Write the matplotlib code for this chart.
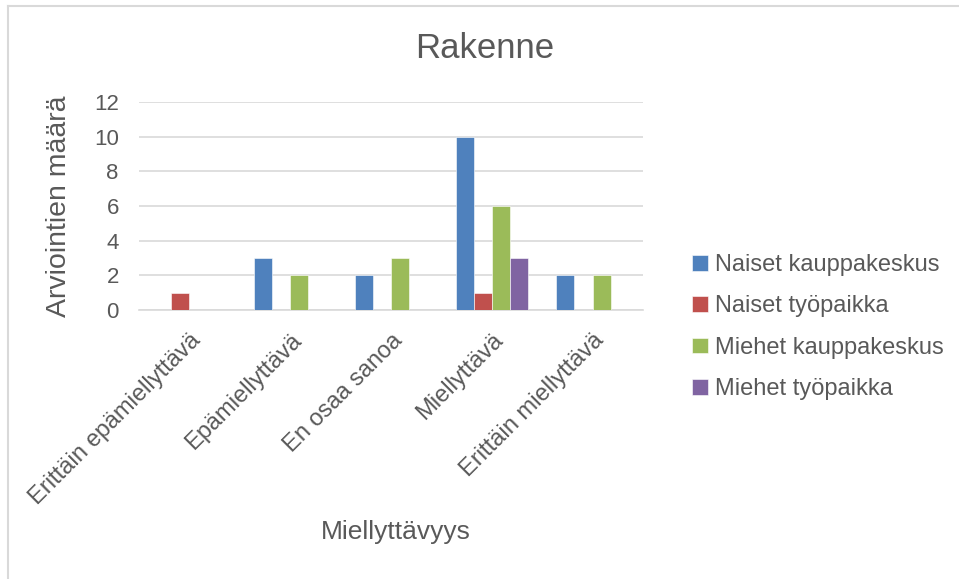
import numpy as np
import matplotlib
matplotlib.use('Agg')
import matplotlib.pyplot as plt
from matplotlib.lines import Line2D

plt.rcParams['font.family'] = ['Liberation Sans', 'DejaVu Sans']

categories = ['Erittäin epämiellyttävä', 'Epämiellyttävä', 'En osaa sanoa',
              'Miellyttävä', 'Erittäin miellyttävä']
series_names = ['Naiset kauppakeskus', 'Naiset työpaikka',
                'Miehet kauppakeskus', 'Miehet työpaikka']
naiset_kauppa = [0, 3, 2, 10, 2]
naiset_tyo = [1, 0, 0, 1, 0]
miehet_kauppa = [0, 2, 3, 6, 2]
miehet_tyo = [0, 0, 0, 3, 0]
y_ticks = [0, 2, 4, 6, 8, 10, 12]

colors = ['#4F81BD', '#C0504D', '#9BBB59', '#8064A2']
text_color = '#595959'
W, H = 959, 579

fig = plt.figure(figsize=(W / 100, H / 100), dpi=100)
ax = fig.add_axes([139 / W, 1 - 310 / H, 504 / W, 208 / H])

# chart border (top and left visible)
fig.add_artist(Line2D([8 / W, 1], [1 - 6 / H, 1 - 6 / H], color='#D9D9D9', lw=1.5))
fig.add_artist(Line2D([8 / W, 8 / W], [0, 1 - 6 / H], color='#D9D9D9', lw=1.5))

x = np.arange(len(categories))
bw = 0.18
all_series = [naiset_kauppa, naiset_tyo, miehet_kauppa, miehet_tyo]
for i, (vals, name, c) in enumerate(zip(all_series, series_names, colors)):
    ax.bar(x + (i - 1.5) * bw, vals, bw, color=c, label=name,
           edgecolor='white', linewidth=0.4, zorder=3)

ax.set_xlim(-0.5, len(categories) - 0.5)
ax.set_ylim(0, 12)
ax.set_yticks(y_ticks)
ax.yaxis.grid(True, color='#D9D9D9', linewidth=1.2, zorder=0)
ax.set_axisbelow(True)
for s in ['top', 'right', 'left']:
    ax.spines[s].set_visible(False)
ax.spines['bottom'].set_color('#D9D9D9')
ax.spines['bottom'].set_linewidth(1.2)
ax.tick_params(axis='both', length=0, labelsize=16, labelcolor=text_color)
ax.tick_params(axis='y', pad=14.5)

ax.set_xticks(x)
ax.set_xticklabels(categories, rotation=45, ha='right', rotation_mode='anchor',
                   fontsize=17, color=text_color)
ax.tick_params(axis='x', pad=14)

ax.set_ylabel('Arviointien määrä', fontsize=20.5, color=text_color)
ax.yaxis.set_label_coords(-0.133, 0.5)
ax.set_xlabel('Miellyttävyys', fontsize=19, color=text_color)
ax.xaxis.set_label_coords(0.51, -1.01)

fig.text(485 / W, 1 - 48 / H, 'Rakenne', fontsize=25, color=text_color,
         ha='center', va='center')

leg = ax.legend(loc='center left', bbox_to_anchor=(671 / W, 1 - 327 / H),
                bbox_transform=fig.transFigure, frameon=False, fontsize=17,
                handlelength=0.65, handleheight=0.65, handletextpad=0.3,
                labelspacing=0.82)
for t in leg.get_texts():
    t.set_color(text_color)

fig.savefig('out.png', dpi=100, facecolor='white')
